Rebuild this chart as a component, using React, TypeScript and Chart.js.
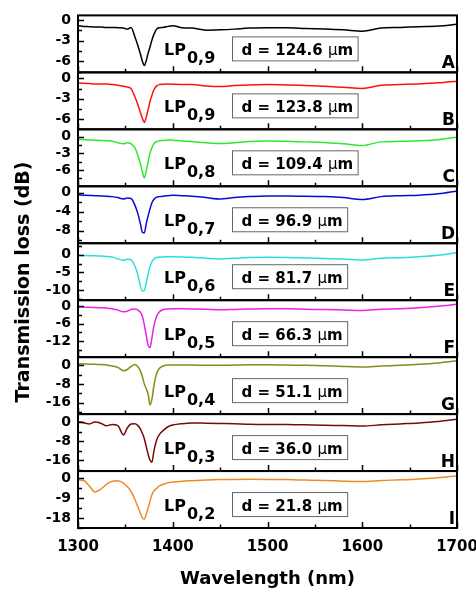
import { useEffect, useRef } from 'react';
import { Chart, registerables } from 'chart.js';

Chart.register(...registerables);

// Wavelength samples (nm)
const WAVELENGTH = [
  1300, 1306, 1312, 1318, 1324, 1330, 1336, 1342, 1348, 1352, 1356, 1360, 1363, 1366, 1368,
  1370, 1372, 1374, 1376, 1378, 1380, 1383, 1386, 1390, 1395, 1400, 1410, 1420, 1435, 1450,
  1465, 1480, 1500, 1520, 1540, 1560, 1580, 1600, 1620, 1640, 1660, 1680, 1700,
];

// Transmission loss (dB) per panel
const LOSS_A = [
  -0.8, -0.9, -0.95, -1.0, -1.0, -1.05, -1.05, -1.1, -1.15, -1.3, -1.05, -2.4, -3.6, -5.0, -6.0,
  -6.6, -5.9, -4.8, -3.9, -2.9, -2.1, -1.3, -1.1, -1.05, -0.9, -0.8, -1.1, -1.15, -1.45, -1.4,
  -1.3, -1.15, -1.1, -1.1, -1.2, -1.3, -1.4, -1.6, -1.15, -1.05, -0.95, -0.85, -0.6,
];
const LOSS_B = [
  -0.63, -0.7, -0.75, -0.8, -0.8, -0.83, -0.9, -1.0, -1.15, -1.25, -1.5, -2.7, -3.8, -5.1, -5.9,
  -6.5, -5.7, -4.6, -3.4, -2.5, -1.7, -1.1, -0.9, -0.85, -0.83, -0.85, -0.88, -0.9, -1.1, -1.2,
  -1.05, -0.95, -0.9, -0.95, -1.05, -1.15, -1.3, -1.47, -1.0, -0.9, -0.8, -0.65, -0.4,
];
const LOSS_C = [
  -0.5, -0.55, -0.6, -0.65, -0.7, -0.75, -0.85, -1.1, -1.3, -1.1, -1.3, -2.0, -3.3, -5.0, -6.3,
  -7.4, -6.2, -4.5, -3.0, -2.0, -1.3, -0.9, -0.75, -0.7, -0.6, -0.65, -0.8, -0.9, -1.1, -1.25,
  -1.1, -0.9, -0.8, -0.85, -0.95, -1.05, -1.3, -1.6, -0.95, -0.85, -0.75, -0.55, -0.1,
];
const LOSS_D = [
  -0.45, -0.5, -0.55, -0.6, -0.65, -0.7, -0.8, -1.0, -1.3, -1.1, -1.2, -2.6, -4.3, -6.7, -8.4,
  -8.5, -6.6, -4.9, -3.4, -2.1, -1.4, -0.9, -0.8, -0.7, -0.6, -0.5, -0.6, -0.7, -1.0, -1.3,
  -1.0, -0.8, -0.65, -0.65, -0.7, -0.8, -1.0, -1.4, -0.8, -0.6, -0.5, -0.2, 0.4,
];
const LOSS_E = [
  -0.2, -0.25, -0.3, -0.35, -0.4, -0.5, -0.7, -1.2, -1.6, -1.3, -1.5, -3.2, -5.5, -9.0, -10.2,
  -10.1, -8.0, -5.4, -3.4, -2.0, -1.3, -0.8, -0.7, -0.65, -0.6, -0.6, -0.65, -0.75, -1.0, -1.2,
  -1.0, -0.8, -0.75, -0.8, -0.95, -1.1, -1.25, -1.5, -1.0, -0.85, -0.6, -0.2, 0.6,
];
const LOSS_F = [
  -0.35, -0.4, -0.45, -0.5, -0.6, -0.7, -0.9, -1.4, -2.0, -1.8, -1.2, -1.0, -1.3, -2.2, -3.6,
  -6.5, -10.0, -13.5, -14.2, -11.0, -7.0, -3.5, -2.0, -1.2, -1.0, -0.95, -0.95, -1.0, -1.1, -1.25,
  -1.15, -1.0, -0.9, -0.95, -1.1, -1.2, -1.35, -1.5, -1.1, -0.9, -0.6, -0.1, 0.6,
];
const LOSS_G = [
  0.7, 0.6, 0.5, 0.4, 0.3, 0.1, -0.3, -0.9, -2.3, -1.8, -0.5, 0.3, -0.5, -2.5, -5.0,
  -8.0, -10.0, -12.4, -17.0, -14.5, -9.0, -3.5, -1.3, -0.3, 0.1, 0.1, 0.1, 0.1, 0.0, 0.0,
  0.1, 0.2, 0.2, 0.1, 0.0, -0.2, -0.5, -0.7, -0.3, 0.0, 0.4, 1.0, 1.9,
];
const LOSS_H = [
  0.1, -0.3, -0.8, 0.0, -0.5, -1.6, -1.0, -1.5, -5.4, -2.5, -0.8, -0.7, -1.4, -3.0, -4.8,
  -7.0, -10.2, -13.5, -16.0, -16.8, -12.4, -7.5, -5.2, -3.5, -2.0, -1.3, -0.7, -0.4, -0.5, -0.6,
  -0.7, -0.9, -1.0, -1.0, -1.2, -1.4, -1.5, -1.7, -1.2, -0.8, -0.4, 0.2, 1.1,
];
const LOSS_I = [
  -0.8, -1.0, -3.5, -6.2, -5.0, -2.8, -1.3, -1.1, -2.2, -3.8, -6.0, -9.5, -12.8, -16.0, -18.0,
  -18.6, -16.5, -13.5, -10.5, -7.5, -5.8, -4.6, -3.5, -2.7, -2.0, -1.7, -1.3, -1.1, -0.8, -0.6,
  -0.5, -0.45, -0.5, -0.6, -0.8, -1.0, -1.3, -1.5, -1.0, -0.7, -0.3, 0.3, 1.0,
];
const SERIES = [LOSS_A, LOSS_B, LOSS_C, LOSS_D, LOSS_E, LOSS_F, LOSS_G, LOSS_H, LOSS_I];

// Axis ranges and tick labels per panel
const Y_MIN = [-7.6, -7.5, -8.9, -10.7, -12.8, -17.5, -20.9, -20.5, -22.6];
const Y_MAX = [0.7, 0.9, 1.3, 1.4, 3.2, 2.0, 3.5, 3.3, 3.3];
const Y_TICKS = [
  [0, -3, -6], [0, -3, -6], [0, -3, -6], [0, -4, -8], [0, -5, -10],
  [0, -6, -12], [0, -8, -16], [0, -8, -16], [0, -9, -18],
];
const X_MAJOR = [1300, 1400, 1500, 1600, 1700];
const X_MINOR = [1350, 1450, 1550, 1650];

const MODES = ['0,9', '0,9', '0,8', '0,7', '0,6', '0,5', '0,4', '0,3', '0,2'];
const DIAMETERS = ['124.6', '123.8', '109.4', '96.9', '81.7', '66.3', '51.1', '36.0', '21.8'];
const PANEL_LETTERS = ['A', 'B', 'C', 'D', 'E', 'F', 'G', 'H', 'I'];
const COLORS = ['#000000', '#ff1010', '#2ee82e', '#0a0ad8', '#2adede', '#ea22ea', '#8a8a16', '#7d0808', '#f08a24'];

const FONT = 'DejaVu Sans';

const panelPlugin = {
  id: 'panelDecor',
  afterDatasetsDraw(chart: any) {
    const ctx = chart.ctx as CanvasRenderingContext2D;
    const area = chart.chartArea;
    const xs = chart.scales.x;
    ctx.save();
    ctx.strokeStyle = '#000';
    ctx.fillStyle = '#000';
    SERIES.forEach((_, i) => {
      const ys = chart.scales['y' + i];
      const top = ys.top;
      const bottom = ys.bottom;
      // x ticks (inward, at panel bottom)
      ctx.lineWidth = 1.5;
      ctx.beginPath();
      X_MAJOR.forEach((v) => {
        const px = Math.round(xs.getPixelForValue(v)) + 0.5;
        ctx.moveTo(px, bottom);
        ctx.lineTo(px, bottom - 6);
      });
      X_MINOR.forEach((v) => {
        const px = Math.round(xs.getPixelForValue(v)) + 0.5;
        ctx.moveTo(px, bottom);
        ctx.lineTo(px, bottom - 3.5);
      });
      ctx.stroke();
      // y ticks (inward)
      const t = Y_TICKS[i];
      const step = t[0] - t[1];
      ctx.beginPath();
      t.forEach((v) => {
        const py = Math.round(ys.getPixelForValue(v)) + 0.5;
        ctx.moveTo(area.left, py);
        ctx.lineTo(area.left + 6, py);
      });
      for (let v = t[0] + step / 2; v > Y_MIN[i]; v -= step) {
        if (v >= Y_MAX[i]) continue;
        const py = Math.round(ys.getPixelForValue(v)) + 0.5;
        ctx.moveTo(area.left, py);
        ctx.lineTo(area.left + 4, py);
      }
      ctx.stroke();
      // frame
      ctx.lineWidth = 2;
      ctx.strokeRect(area.left, top, area.right - area.left, bottom - top);

      // LP label
      ctx.textAlign = 'left';
      ctx.textBaseline = 'alphabetic';
      ctx.font = `bold 16px "${FONT}"`;
      const lx = area.left + 86;
      const ly = top + 40;
      ctx.fillText('LP', lx, ly);
      const lw = ctx.measureText('LP').width;
      ctx.fillText(MODES[i], lx + lw + 1, ly + 8);

      // d = ... box
      const boldFont = `bold 15px "${FONT}"`;
      const muFont = `15px "${FONT}"`;
      const p1 = `d = ${DIAMETERS[i]} `;
      ctx.font = boldFont;
      const w1 = ctx.measureText(p1).width;
      const wm = ctx.measureText('m').width;
      ctx.font = muFont;
      const wmu = ctx.measureText('\u03bc').width;
      const tw = w1 + wmu + wm;
      const bx = area.left + 154.5;
      const by = top + 21.5;
      const bh = 24;
      ctx.fillStyle = '#fff';
      ctx.fillRect(bx, by, tw + 14, bh);
      ctx.lineWidth = 1;
      ctx.strokeStyle = '#666';
      ctx.strokeRect(bx, by, tw + 14, bh);
      ctx.fillStyle = '#000';
      ctx.strokeStyle = '#000';
      const tyy = by + bh / 2 + 6;
      ctx.font = boldFont;
      ctx.fillText(p1, bx + 9, tyy);
      ctx.font = muFont;
      ctx.fillText('\u03bc', bx + 9 + w1, tyy);
      ctx.font = boldFont;
      ctx.fillText('m', bx + 9 + w1 + wmu, tyy);

      // panel letter
      ctx.font = `bold 17px "${FONT}"`;
      ctx.textAlign = 'right';
      ctx.fillText(PANEL_LETTERS[i], area.right - 2, bottom - 4);
    });

    // y title
    ctx.save();
    ctx.translate(24, 282);
    ctx.rotate(-Math.PI / 2);
    ctx.font = `bold 19px "${FONT}"`;
    ctx.textAlign = 'center';
    ctx.textBaseline = 'middle';
    ctx.fillStyle = '#000';
    ctx.fillText('Transmission loss (dB)', 0, 0);
    ctx.restore();

    ctx.restore();
  },
};

export default function App() {
  const canvasRef = useRef<HTMLCanvasElement | null>(null);

  useEffect(() => {
    const canvas = canvasRef.current;
    if (!canvas) return;

    const scales: any = {
      x: {
        type: 'linear',
        position: 'bottom',
        min: 1300,
        max: 1700,
        afterBuildTicks: (s: any) => {
          s.ticks = X_MAJOR.map((v) => ({ value: v }));
        },
        afterFit: (s: any) => {
          s.height = 65;
          s.paddingLeft = 0;
          s.paddingRight = 0;
        },
        ticks: {
          font: { family: FONT, size: 15, weight: 'bold' },
          color: '#000',
          padding: 10,
          maxRotation: 0,
          autoSkip: false,
          callback: (v: any) => String(v),
        },
        grid: { display: false, drawTicks: false },
        border: { display: false },
        title: {
          display: true,
          text: 'Wavelength (nm)',
          font: { family: FONT, size: 18, weight: 'bold' },
          color: '#000',
          padding: { top: 0, bottom: 3 },
        },
      },
    };
    for (let i = 8; i >= 0; i--) {
      scales['y' + i] = {
        type: 'linear',
        position: 'left',
        stack: 'panels',
        stackWeight: 1,
        weight: 9 - i,
        min: Y_MIN[i],
        max: Y_MAX[i],
        afterBuildTicks: (s: any) => {
          s.ticks = Y_TICKS[i].map((v) => ({ value: v }));
        },
        afterFit: (s: any) => {
          s.width = 78;
        },
        ticks: {
          font: { family: FONT, size: 14, weight: 'bold' },
          color: '#000',
          padding: 7,
          autoSkip: false,
          callback: (v: any) => String(v),
        },
        grid: { display: false, drawTicks: false },
        border: { display: false },
      };
    }

    const chart = new Chart(canvas, {
      type: 'line',
      data: {
        datasets: SERIES.map((vals, i) => ({
          label: PANEL_LETTERS[i],
          data: WAVELENGTH.map((w, j) => ({ x: w, y: vals[j] })),
          yAxisID: 'y' + i,
          borderColor: COLORS[i],
          borderWidth: 1.5,
          pointRadius: 0,
          cubicInterpolationMode: 'monotone',
          fill: false,
        })),
      },
      options: {
        responsive: false,
        animation: false,
        devicePixelRatio: 1,
        layout: { padding: { left: 0, right: 19, top: 12, bottom: 0 } },
        plugins: { legend: { display: false }, tooltip: { enabled: false } },
        scales,
      } as any,
      plugins: [panelPlugin],
    });
    return () => chart.destroy();
  }, []);

  return (
    <div style={{ position: 'absolute', left: 0, top: 0, width: 476, height: 593, background: '#fff' }}>
      <canvas ref={canvasRef} width={476} height={593} style={{ display: 'block' }} />
    </div>
  );
}
